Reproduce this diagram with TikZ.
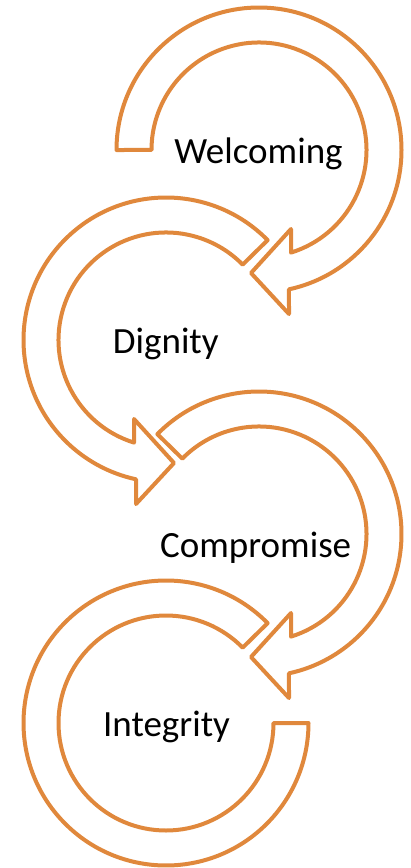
\documentclass[tikz,border=0pt]{standalone}
\usepackage{fontspec}
\setmainfont{Carlito}
\definecolor{arrorange}{HTML}{E0883C}
\begin{document}
\begin{tikzpicture}[x=1pt,y=-1pt,
  arrowband/.style={draw=arrorange,line width=4pt,line join=round,fill=white},
  label/.style={font=\fontsize{37}{41}\selectfont,anchor=base,inner sep=0pt,text=black}]
\useasboundingbox (0,0) rectangle (411,868);
% circle 1 (clockwise)
\begin{scope}[shift={(259,150)}]
\draw[arrowband] (180:142.5) arc[start angle=180,end angle=437.85,radius=142.5]
  -- (30,164) -- (-8,123) -- (32,79) -- (32,102.6)
  arc[start angle=432.68,end angle=180,radius=107.5] -- cycle;
\end{scope}
% circle 2 (counterclockwise)
\begin{scope}[shift={(166,340)}]
\draw[arrowband] (315.5:142.5) arc[start angle=315.5,end angle=102.15,radius=142.5]
  -- (-30,164) -- (8,123) -- (-32,79) -- (-32,102.6)
  arc[start angle=107.32,end angle=315.5,radius=107.5] -- cycle;
\end{scope}
% circle 3 (clockwise)
\begin{scope}[shift={(259,534)}]
\draw[arrowband] (224.5:142.5) arc[start angle=224.5,end angle=437.85,radius=142.5]
  -- (30,164) -- (-8,123) -- (32,79) -- (32,102.6)
  arc[start angle=432.68,end angle=224.5,radius=107.5] -- cycle;
\end{scope}
% circle 4 (counterclockwise, no head)
\begin{scope}[shift={(166,723)}]
\draw[arrowband] (315.5:142.5) arc[start angle=315.5,end angle=0,radius=142.5]
  -- (0:107.5) arc[start angle=0,end angle=315.5,radius=107.5] -- cycle;
\end{scope}
\node[label] (welcoming) at (258.5,163.3) {Welcoming};
\node[label] (dignity) at (165.8,353.3) {Dignity};
\node[label] (compromise) at (255.7,557) {Compromise};
\node[label] (integrity) at (166.5,736) {Integrity};
\end{tikzpicture}
\end{document}
